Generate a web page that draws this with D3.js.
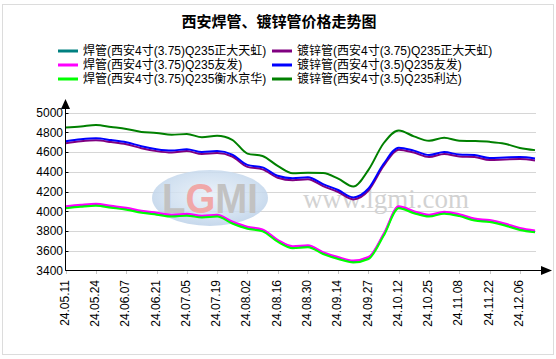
<!DOCTYPE html>
<html><head><meta charset="utf-8">
<script src="https://cdn.jsdelivr.net/npm/d3@7"></script>
<style>
html,body{margin:0;padding:0;background:#fff;}
svg{display:block;font-family:"Liberation Sans",Arial,"Noto Sans CJK SC",sans-serif;}
</style></head>
<body><svg id="chart" width="556" height="359"></svg>
<script>
const title = "西安焊管、镀锌管价格走势图";
const categories = ['24.05.11','24.05.17','24.05.24','24.05.31','24.06.07','24.06.14','24.06.21','24.06.28','24.07.05','24.07.12','24.07.19','24.07.26','24.08.02','24.08.09','24.08.16','24.08.23','24.08.30','24.09.06','24.09.14','24.09.20','24.09.27','24.10.08','24.10.12','24.10.18','24.10.25','24.11.01','24.11.08','24.11.15','24.11.22','24.11.29','24.12.06','24.12.13'];
const yTicks = [3400,3600,3800,4000,4200,4400,4600,4800,5000];
const seriesNames = ['焊管(西安4寸(3.75)Q235正大天虹)','镀锌管(西安4寸(3.75)Q235正大天虹)','焊管(西安4寸(3.75)Q235友发)','镀锌管(西安4寸(3.5)Q235友发)','焊管(西安4寸(3.75)Q235衡水京华)','镀锌管(西安4寸(3.5)Q235利达)'];
const seriesColors = ['#008080','#800080','#ff00ff','#0000ff','#00ff00','#008000'];
const hanZhengda = [4040,4055,4065,4045,4025,3995,3975,3955,3965,3945,3955,3885,3832,3805,3700,3635,3645,3575,3525,3490,3525,3760,4040,3990,3955,3985,3960,3915,3900,3865,3820,3795];
const duZhengda = [4690,4710,4720,4702,4680,4640,4610,4595,4610,4580,4590,4555,4450,4425,4340,4315,4325,4255,4195,4120,4210,4460,4625,4595,4550,4580,4555,4550,4520,4525,4530,4515];
const hanYoufa = [4050,4065,4075,4055,4035,4005,3985,3965,3975,3955,3965,3895,3842,3815,3710,3645,3655,3585,3535,3500,3535,3770,4050,4000,3965,3995,3970,3925,3910,3875,3830,3805];
const duYoufa = [4710,4730,4740,4722,4700,4660,4630,4615,4630,4600,4610,4575,4470,4445,4360,4335,4345,4275,4215,4140,4230,4480,4645,4615,4570,4600,4575,4570,4540,4545,4550,4535];
const hanHengshui = [4030,4045,4055,4035,4015,3985,3965,3945,3955,3935,3945,3875,3822,3795,3690,3625,3635,3565,3515,3480,3515,3750,4030,3980,3945,3975,3950,3905,3890,3855,3810,3785];
const duLida = [4850,4860,4875,4855,4835,4805,4795,4775,4785,4750,4765,4725,4585,4560,4460,4385,4390,4388,4330,4250,4420,4690,4820,4760,4715,4745,4715,4712,4704,4685,4642,4620];
const seriesData = [hanZhengda, duZhengda, hanYoufa, duYoufa, hanHengshui, duLida];

const svg = d3.select('#chart');
const x = d3.scaleLinear().domain([0, categories.length-1]).range([65.7, 535]);
const y = d3.scaleLinear().domain([3400, 5000]).range([270.3, 112.7]);

// frame
svg.append('rect').attr('x',2.5).attr('y',4.5).attr('width',551).attr('height',350)
  .attr('fill','#fff').attr('stroke','#dcdcdc');

// title
svg.append('text').attr('x',279).attr('y',27).attr('text-anchor','middle')
  .attr('font-size',15).attr('font-weight','bold').attr('fill','#000').text(title);

// legend
const legCols = [58, 272];
seriesNames.forEach((n,i)=>{
  const col = i%2, row = Math.floor(i/2);
  const lx = legCols[col], ly = 51 + row*14;
  svg.append('line').attr('x1',lx).attr('x2',lx+20).attr('y1',ly).attr('y2',ly)
    .attr('stroke',seriesColors[i]).attr('stroke-width',3);
  svg.append('text').attr('x',lx+25).attr('y',ly).attr('dy','0.36em')
    .attr('font-size',12).attr('fill','#000').text(n);
});

// gridlines
svg.append('g').selectAll('line').data(yTicks.slice(1)).join('line')
  .attr('x1',66).attr('x2',536).attr('y1',d=>Math.round(y(d))+0.5).attr('y2',d=>Math.round(y(d))+0.5)
  .attr('stroke','#d6d6d6').attr('stroke-width',1);

// watermark
const wm = svg.append('g');
const grad = svg.append('defs').append('radialGradient').attr('id','wmg').attr('cx','50%').attr('cy','45%').attr('r','60%');
grad.append('stop').attr('offset','0%').attr('stop-color','#e8f0f8');
grad.append('stop').attr('offset','70%').attr('stop-color','#c9dbee');
grad.append('stop').attr('offset','100%').attr('stop-color','#b7cde6');
wm.append('ellipse').attr('cx',210).attr('cy',198).attr('rx',58).attr('ry',28).attr('fill','url(#wmg)').attr('opacity',0.85);
const wt = wm.append('text').attr('x',210).attr('y',213).attr('text-anchor','middle')
  .attr('font-size',42).attr('font-weight','bold').attr('font-family','"Liberation Sans",Arial,sans-serif')
  .attr('textLength',96).attr('lengthAdjust','spacingAndGlyphs');
wt.append('tspan').attr('fill','#c2c2c2').text('L');
wt.append('tspan').attr('fill','#f0a8a8').text('G');
wt.append('tspan').attr('fill','#c2c2c2').text('MI');
wm.append('text').attr('x',386).attr('y',208).attr('text-anchor','middle')
  .attr('font-size',27).attr('font-family','"Liberation Serif","Times New Roman",serif')
  .attr('fill','#d2d2d2').text('www.lgmi.com');

// lines
const line = d3.line().x((d,i)=>x(i)).y(d=>y(d)).curve(d3.curveMonotoneX);
seriesData.forEach((s,i)=>{
  svg.append('path').attr('d',line(s)).attr('fill','none')
    .attr('stroke',seriesColors[i]).attr('stroke-width',2).attr('stroke-linejoin','round');
});

// y axis
svg.append('line').attr('x1',65.5).attr('x2',65.5).attr('y1',270.5).attr('y2',106).attr('stroke','#000');
svg.append('path').attr('d','M65.5,99 L61,109 L70,109 Z').attr('fill','#000');
svg.append('g').selectAll('text').data(yTicks).join('text')
  .attr('x',63).attr('y',d=>y(d)).attr('dy','0.36em').attr('text-anchor','end')
  .attr('font-size',12).attr('fill','#000').text(d=>d);
svg.append('g').selectAll('line').data(yTicks).join('line')
  .attr('x1',65.5).attr('x2',68.5).attr('y1',d=>Math.round(y(d))+0.5).attr('y2',d=>Math.round(y(d))+0.5)
  .attr('stroke','#000');

// x axis
svg.append('line').attr('x1',65.5).attr('x2',543).attr('y1',270.5).attr('y2',270.5).attr('stroke','#000');
svg.append('path').attr('d','M552,270.5 L541,266 L541,275 Z').attr('fill','#000');
const labelIdx = categories.map((c,i)=>i).filter(i=>i%2===0);
svg.append('g').selectAll('line').data(labelIdx).join('line')
  .attr('x1',i=>Math.round(x(i))+0.5).attr('x2',i=>Math.round(x(i))+0.5).attr('y1',271).attr('y2',274)
  .attr('stroke','#c8c8c8');
svg.append('g').selectAll('text').data(labelIdx).join('text')
  .attr('transform',i=>`translate(${x(i)-1.2},280) rotate(-90)`)
  .attr('text-anchor','end').attr('dy','0.36em')
  .attr('font-size',12).attr('fill','#000').text(i=>categories[i]);
</script></body></html>
